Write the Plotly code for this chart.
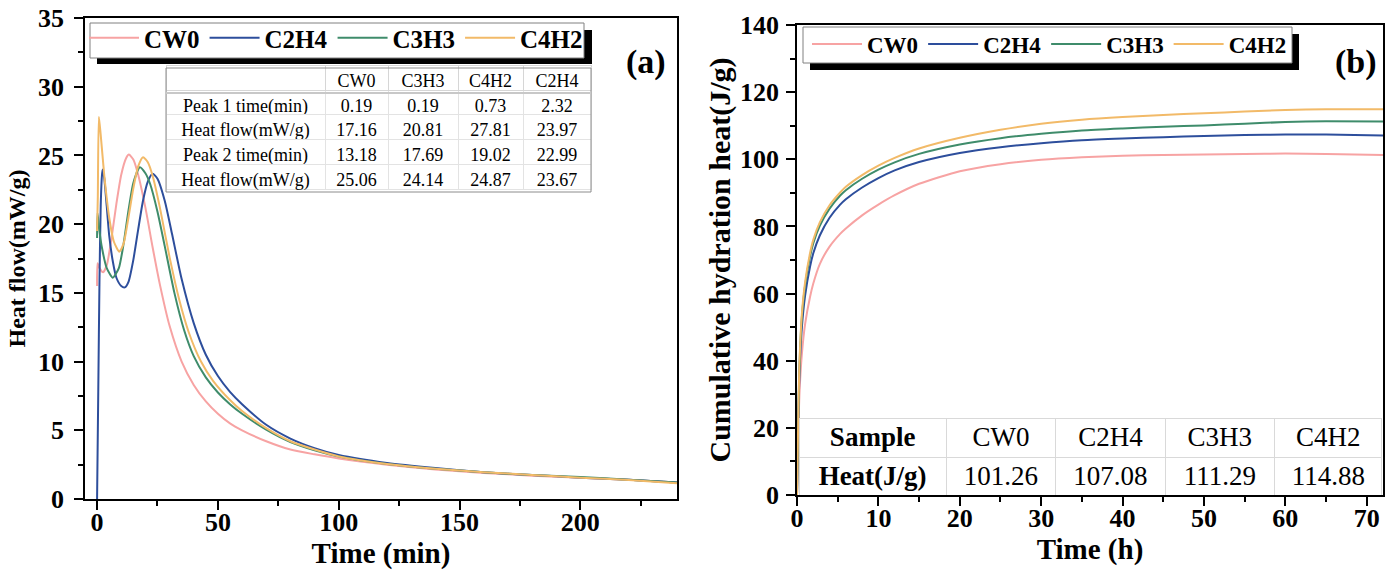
import plotly.graph_objects as go

W, H = 1392, 576


def fx(p):
    return p / W


def fy(p):
    return 1 - p / H


FONT = "Liberation Serif"
names = ["CW0", "C2H4", "C3H3", "C4H2"]
colors = {"CW0": "#F7A3A3", "C2H4": "#2D4E9C", "C3H3": "#3F8C6B", "C4H2": "#F2BA68"}

# ---------------- panel (a): heat flow (mW/g) vs time (min) ----------------
t_cw0 = [0, 0.19, 1, 2.5, 4, 6, 8, 10, 12, 13.18, 15, 17, 20, 23, 26, 30, 35, 40, 45, 50,
         55, 60, 70, 80, 90, 100, 120, 140, 160, 180, 200, 220, 240]
hf_cw0 = [15.5, 17.16, 16.8, 16.5, 17.0, 19.0, 21.5, 23.6, 24.8, 25.06, 24.7, 23.6, 21.2, 18.3,
          15.6, 12.6, 10.0, 8.3, 7.1, 6.2, 5.5, 5.0, 4.2, 3.6, 3.25, 2.95, 2.5, 2.15, 1.9, 1.7,
          1.55, 1.4, 1.2]

t_c2h4 = [0, 0.5, 1, 1.5, 2, 2.32, 3, 4, 5, 6.5, 8, 10, 11.5, 13, 15, 17, 19, 21, 22.99, 25,
          28, 31, 35, 40, 45, 50, 55, 60, 70, 80, 90, 100, 120, 140, 160, 180, 200, 220, 240]
hf_c2h4 = [0, 8, 16, 21.3, 23.5, 23.97, 23.3, 21.3, 19.2, 17.3, 16.1, 15.5, 15.4, 15.8, 17.4,
           19.6, 21.7, 23.1, 23.67, 23.3, 21.7, 19.3, 16.0, 12.8, 10.5, 8.95, 7.8, 6.9, 5.4,
           4.4, 3.7, 3.2, 2.62, 2.25, 1.95, 1.75, 1.55, 1.4, 1.2]

t_c3h3 = [0, 0.19, 1, 2, 4, 6.5, 9, 11, 13, 15, 17.69, 20, 22, 25, 28, 32, 36, 40, 45, 50, 55,
          60, 70, 80, 90, 100, 120, 140, 160, 180, 200, 220, 240]
hf_c3h3 = [19.0, 20.81, 19.5, 18.3, 16.8, 16.1, 16.8, 18.6, 21.0, 23.0, 24.14, 23.7, 22.9,
           20.9, 18.4, 15.0, 12.3, 10.4, 8.85, 7.75, 6.9, 6.2, 5.05, 4.15, 3.55, 3.1, 2.55,
           2.2, 1.95, 1.75, 1.6, 1.4, 1.2]

t_c4h2 = [0, 0.3, 0.73, 1.5, 3, 5, 7, 9.2, 11, 13, 15, 17, 19.02, 21, 23, 26, 30, 34, 38,
          43, 48, 55, 60, 70, 80, 90, 100, 120, 140, 160, 180, 200, 220, 240]
hf_c4h2 = [19.5, 22.0, 27.81, 26.5, 23.5, 20.5, 18.7, 18.0, 18.6, 20.5, 22.6, 24.2, 24.87,
           24.5, 23.5, 21.2, 17.6, 14.5, 12.1, 10.0, 8.6, 7.2, 6.4, 5.15, 4.2, 3.6, 3.1, 2.55,
           2.2, 1.95, 1.75, 1.55, 1.38, 1.15]

# ---------------- panel (b): cumulative heat (J/g) vs time (h) ----------------
t_h = [0, 0.3, 0.6, 1, 1.6, 2, 2.8, 4, 5.3, 6, 8, 10, 12, 15, 20, 25, 30, 35, 40, 45, 50,
       55, 60, 65, 72]
q_cw0 = [0, 30, 42, 51, 59, 63, 68.8, 74.0, 77.8, 79.4, 83.3, 86.5, 89.3, 92.7, 96.45, 98.55,
         99.85, 100.6, 101.05, 101.3, 101.4, 101.55, 101.7, 101.6, 101.26]
q_c2h4 = [0, 36, 50, 59.5, 68, 72, 77.3, 82.6, 86.5, 88.1, 91.6, 94.4, 96.7, 99.2, 101.9, 103.6,
          104.8, 105.7, 106.2, 106.6, 106.9, 107.2, 107.4, 107.4, 107.08]
q_c3h3 = [0, 38, 53, 62.5, 71, 75, 80.2, 85.3, 89.2, 90.8, 94.2, 96.9, 99.1, 101.6, 104.4,
          106.3, 107.6, 108.6, 109.2, 109.7, 110.1, 110.6, 111.1, 111.3, 111.29]
q_c4h2 = [0, 39, 54, 63.5, 72, 76, 81.2, 86.3, 90.1, 91.8, 95.3, 98.1, 100.4, 103.2, 106.4,
          108.8, 110.6, 111.8, 112.6, 113.2, 113.7, 114.2, 114.7, 114.9, 114.88]

# ---------------- tick labels ----------------
a_xticks = [0, 50, 100, 150, 200]
a_yticks = [0, 5, 10, 15, 20, 25, 30, 35]
b_xticks = [0, 10, 20, 30, 40, 50, 60, 70]
b_yticks = [0, 20, 40, 60, 80, 100, 120, 140]

# ---------------- tables ----------------
tab_a_cols = ["CW0", "C3H3", "C4H2", "C2H4"]
tab_a_rows = ["Peak 1 time(min)", "Heat flow(mW/g)", "Peak 2 time(min)", "Heat flow(mW/g)"]
tab_a_vals = {
    "CW0": [0.19, 17.16, 13.18, 25.06],
    "C3H3": [0.19, 20.81, 17.69, 24.14],
    "C4H2": [0.73, 27.81, 19.02, 24.87],
    "C2H4": [2.32, 23.97, 22.99, 23.67],
}
tab_b_cols = ["CW0", "C2H4", "C3H3", "C4H2"]
tab_b_heat = [101.26, 107.08, 111.29, 114.88]


def bold(v):
    return "<b>%s</b>" % v


fig = go.Figure()

panel_a = {"CW0": (t_cw0, hf_cw0), "C2H4": (t_c2h4, hf_c2h4),
           "C3H3": (t_c3h3, hf_c3h3), "C4H2": (t_c4h2, hf_c4h2)}
panel_b = {"CW0": q_cw0, "C2H4": q_c2h4, "C3H3": q_c3h3, "C4H2": q_c4h2}

for n in names:
    x, y = panel_a[n]
    fig.add_trace(go.Scatter(x=x, y=y, mode="lines", name=bold(n),
                             line=dict(color=colors[n], width=2, shape="spline", smoothing=0.6),
                             xaxis="x", yaxis="y", legend="legend"))
for n in names:
    fig.add_trace(go.Scatter(x=t_h, y=panel_b[n], mode="lines", name=bold(n),
                             line=dict(color=colors[n], width=2, shape="spline", smoothing=0.6),
                             xaxis="x2", yaxis="y2", legend="legend2"))

# table (a)
fig.add_trace(go.Table(
    domain=dict(x=[fx(166), fx(591)], y=[fy(215), fy(65)]),
    columnwidth=[159, 63, 70, 65, 68],
    header=dict(values=[""] + tab_a_cols, height=25, fill_color="white",
                line=dict(color="#d6d6d6", width=1), align="center",
                font=dict(family=FONT, size=18, color="black")),
    cells=dict(values=[tab_a_rows] + [["%.2f" % v for v in tab_a_vals[c]] for c in tab_a_cols],
               height=24.75, fill_color="white", line=dict(color="#e3e3e3", width=1), align="center",
               font=dict(family=FONT, size=18, color="black")),
))

# table (b)
fig.add_trace(go.Table(
    domain=dict(x=[fx(799), fx(1382)], y=[fy(495), fy(418)]),
    columnwidth=[148, 110, 110, 110, 108],
    header=dict(values=["Sample"] + tab_b_cols, height=39, fill_color="white",
                line=dict(color="#d9d9d9", width=1), align="center",
                font=dict(family=FONT, size=27, color="black",
                          weight=["bold", "normal", "normal", "normal", "normal"])),
    cells=dict(values=[["Heat(J/g)"]] + [["%.2f" % v] for v in tab_b_heat],
               height=38, fill_color="white", line=dict(color="#d9d9d9", width=1), align="center",
               font=dict(family=FONT, size=27, color="black",
                         weight=["bold", "normal", "normal", "normal", "normal"])),
))

tickfont = dict(family=FONT, size=26, color="black")
axis_common = dict(showline=True, linecolor="black", linewidth=1.5, mirror=True, ticks="outside",
                   ticklen=9, tickwidth=1.5, tickcolor="black", showgrid=False, zeroline=False,
                   tickfont=tickfont, automargin=False)
minor_style = dict(ticks="outside", ticklen=5, tickwidth=1.5, tickcolor="black")

fig.update_layout(
    width=W, height=H,
    margin=dict(l=0, r=0, t=0, b=0, autoexpand=False),
    paper_bgcolor="white", plot_bgcolor="white",
    xaxis=dict(domain=[fx(85), fx(677)], range=[-5, 240],
               tickvals=a_xticks, ticktext=[bold(v) for v in a_xticks], ticklabelstandoff=-10,
               minor=dict(dtick=25, tick0=0, **minor_style),
               title=dict(text=bold("Time (min)"), font=dict(family=FONT, size=29, color="black"), standoff=6),
               anchor="y", **axis_common),
    yaxis=dict(domain=[fy(499), fy(18)], range=[0, 35],
               tickvals=a_yticks, ticktext=[bold(v) for v in a_yticks], ticklabelstandoff=5,
               minor=dict(dtick=2.5, tick0=0, **minor_style),
               title=dict(text=bold("Heat flow(mW/g)"), font=dict(family=FONT, size=24, color="black"), standoff=6),
               anchor="x", **axis_common),
    xaxis2=dict(domain=[fx(797), fx(1383)], range=[0, 72],
                tickvals=b_xticks, ticktext=[bold(v) for v in b_xticks], ticklabelstandoff=-10,
                minor=dict(dtick=5, tick0=0, **minor_style),
                title=dict(text=bold("Time (h)"), font=dict(family=FONT, size=29, color="black"), standoff=6),
                anchor="y2", **axis_common),
    yaxis2=dict(domain=[fy(495), fy(25)], range=[0, 140],
                tickvals=b_yticks, ticktext=[bold(v) for v in b_yticks], ticklabelstandoff=2,
                minor=dict(dtick=10, tick0=0, **minor_style),
                title=dict(text=bold("Cumulative hydration heat(J/g)"), font=dict(family=FONT, size=30, color="black"), standoff=1),
                anchor="x2", **axis_common),
    legend=dict(orientation="h", x=fx(84), y=fy(38), xanchor="left", yanchor="middle",
                bgcolor="rgba(0,0,0,0)", borderwidth=0,
                font=dict(family=FONT, size=25, color="black"),
                itemwidth=50, tracegroupgap=0),
    legend2=dict(orientation="h", x=fx(807), y=fy(44), xanchor="left", yanchor="middle",
                 bgcolor="rgba(0,0,0,0)", borderwidth=0,
                 font=dict(family=FONT, size=23, color="black"),
                 itemwidth=50),
    annotations=[
        dict(text=bold("(a)"), x=fx(646), y=fy(62), xref="paper", yref="paper", showarrow=False,
             xanchor="center", yanchor="middle", font=dict(family=FONT, size=34, color="black")),
        dict(text=bold("(b)"), x=fx(1356), y=fy(62), xref="paper", yref="paper", showarrow=False,
             xanchor="center", yanchor="middle", font=dict(family=FONT, size=34, color="black")),
    ],
    shapes=[
        # legend (a) shadow + frame
        dict(type="rect", xref="paper", yref="paper", x0=fx(97), x1=fx(592), y0=fy(64), y1=fy(30),
             fillcolor="black", line=dict(width=0), layer="above"),
        dict(type="rect", xref="paper", yref="paper", x0=fx(90), x1=fx(584), y0=fy(58), y1=fy(23),
             fillcolor="white", line=dict(color="#808080", width=1), layer="above"),
        # legend (b) shadow + frame
        dict(type="rect", xref="paper", yref="paper", x0=fx(810), x1=fx(1299), y0=fy(70), y1=fy(34),
             fillcolor="black", line=dict(width=0), layer="above"),
        dict(type="rect", xref="paper", yref="paper", x0=fx(803), x1=fx(1292), y0=fy(63), y1=fy(27),
             fillcolor="white", line=dict(color="#808080", width=1), layer="above"),
        # table (a) outer frame and header rule
        dict(type="rect", xref="paper", yref="paper", x0=fx(166), x1=fx(591), y0=fy(192), y1=fy(68),
             line=dict(color="#8c8c8c", width=1), layer="above"),
        dict(type="line", xref="paper", yref="paper", x0=fx(166), x1=fx(591), y0=fy(93), y1=fy(93),
             line=dict(color="#c8c8c8", width=2), layer="above"),
    ],
    showlegend=True,
)

fig.write_html("out.html")
